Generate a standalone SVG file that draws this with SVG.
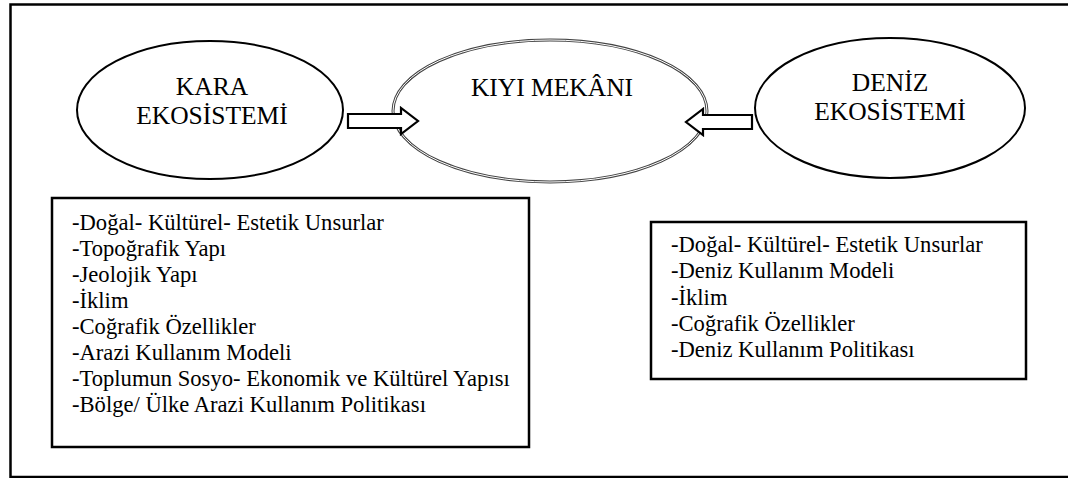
<svg xmlns="http://www.w3.org/2000/svg" width="1068" height="478" viewBox="0 0 1068 478">
<style>
text{font-family:'Liberation Serif','DejaVu Serif',serif;fill:#000}
.big{font-size:25.5px}
.list{font-size:22.6px}
.box{fill:#fff;stroke:#000;stroke-width:2.5}
.ell{fill:#fff;stroke:#000;stroke-width:2}
.arr{fill:#fff;stroke:#000;stroke-width:2.2;stroke-linejoin:miter}
</style>
<rect x="0" y="0" width="1068" height="478" fill="#fff"/>
<path d="M1068,4.5 H10.5 V477 H1068" fill="none" stroke="#000" stroke-width="2.5"/>
<g id="kara">
<ellipse class="ell" cx="210" cy="110" rx="133" ry="69"/>
<text class="big" x="212" y="95" text-anchor="middle">KARA</text>
<text class="big" x="212" y="124" text-anchor="middle">EKOSİSTEMİ</text>
</g>
<g id="kiyi">
<ellipse cx="550" cy="111" rx="157" ry="71" fill="#fff" stroke="#444" stroke-width="3"/>
<ellipse cx="550" cy="111" rx="157" ry="71" fill="none" stroke="#fff" stroke-width="1"/>
<text class="big" x="552" y="96" text-anchor="middle">KIYI MEKÂNI</text>
</g>
<g id="deniz">
<ellipse class="ell" cx="890" cy="108" rx="135" ry="70"/>
<text class="big" x="890" y="91" text-anchor="middle">DENİZ</text>
<text class="big" x="890" y="120" text-anchor="middle">EKOSİSTEMİ</text>
</g>
<g id="connectors">
<polygon class="arr" points="348,114 401,114 401,108 418,121 401,134 401,128 348,128"/>
<polygon class="arr" points="752,115 703,115 703,109 686,122 703,135 703,129 752,129"/>
</g>
<g id="kara-list">
<rect class="box" x="52" y="198" width="477" height="249"/>
<text class="list" x="72" y="230">-Doğal- Kültürel- Estetik Unsurlar</text>
<text class="list" x="72" y="256">-Topoğrafik Yapı</text>
<text class="list" x="72" y="282">-Jeolojik Yapı</text>
<text class="list" x="72" y="308">-İklim</text>
<text class="list" x="72" y="334">-Coğrafik Özellikler</text>
<text class="list" x="72" y="360">-Arazi Kullanım Modeli</text>
<text class="list" x="72" y="386">-Toplumun Sosyo- Ekonomik ve Kültürel Yapısı</text>
<text class="list" x="72" y="412">-Bölge/ Ülke Arazi Kullanım Politikası</text>
</g>
<g id="deniz-list">
<rect class="box" x="651" y="222" width="375" height="157"/>
<text class="list" x="671" y="252">-Doğal- Kültürel- Estetik Unsurlar</text>
<text class="list" x="671" y="278">-Deniz Kullanım Modeli</text>
<text class="list" x="671" y="305">-İklim</text>
<text class="list" x="671" y="331">-Coğrafik Özellikler</text>
<text class="list" x="671" y="357">-Deniz Kullanım Politikası</text>
</g>
</svg>
